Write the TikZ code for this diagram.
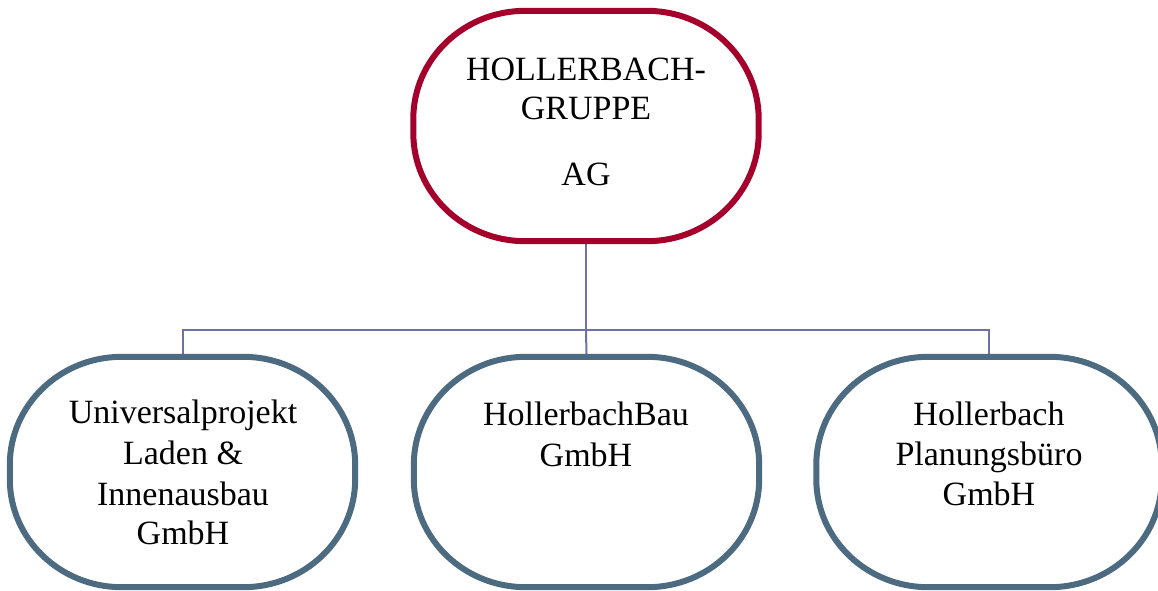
\documentclass[tikz,border=0pt]{standalone}
\usepackage{fontspec}
\setmainfont{Liberation Serif}
\usetikzlibrary{calc}
\definecolor{holdingred}{HTML}{A5002B}
\definecolor{firmblue}{HTML}{4C6A80}
\definecolor{linkviolet}{HTML}{6F6FAA}
\tikzset{
  orgbox/.style={minimum width=345pt, minimum height=230pt, inner sep=0pt},
  frame/.style={line width=6pt, fill=white},
  txt/.style={anchor=base, inner sep=0pt, font=\fontsize{34}{40}\selectfont},
  link/.style={draw=linkviolet, line width=2pt}
}
% rounded frame with elliptical corners around a named box
\newcommand\orgframe[2]{%
  \draw[frame, draw=#2]
    ($(#1.north west)+(112,0)$) -- ($(#1.north east)+(-112,0)$)
    arc[start angle=90, end angle=0, x radius=112pt, y radius=108pt]
    -- ($(#1.south east)+(0,-108)$)
    arc[start angle=0, end angle=-90, x radius=112pt, y radius=108pt]
    -- ($(#1.south west)+(112,0)$)
    arc[start angle=270, end angle=180, x radius=112pt, y radius=108pt]
    -- ($(#1.north west)+(0,108)$)
    arc[start angle=180, end angle=90, x radius=112pt, y radius=108pt]
    -- cycle;}
\begin{document}
\begin{tikzpicture}[x=1pt,y=-1pt]
  \useasboundingbox (0,0) rectangle (1158,590);
  % boxes
  \node[orgbox] (top) at (586,126) {};
  \node[orgbox] (left) at (182.5,472) {};
  \node[orgbox] (mid) at (586.5,472) {};
  \node[orgbox] (right) at (989,472) {};
  % connectors
  \coordinate (bus) at (586,330);
  \draw[link] (top.south) -- (bus);
  \draw[link] (bus) -- (mid.north);
  \draw[link] (bus) -| (left.north);
  \draw[link] (bus) -| (right.north);
  % frames
  \orgframe{top}{holdingred}
  \orgframe{left}{firmblue}
  \orgframe{mid}{firmblue}
  \orgframe{right}{firmblue}
  % holding text
  \node[txt] (t1) at (586,80) {HOLLERBACH-};
  \node[txt] (t2) at (586,119) {GRUPPE};
  \node[txt] (t3) at (586,185) {AG};
  % left firm
  \node[txt] (l1) at (183,423) {Universalprojekt};
  \node[txt] (l2) at (183,464) {Laden \&};
  \node[txt] (l3) at (183,505) {Innenausbau};
  \node[txt] (l4) at (183,544) {GmbH};
  % middle firm
  \node[txt] (m1) at (586,425) {HollerbachBau};
  \node[txt] (m2) at (586,466) {GmbH};
  % right firm
  \node[txt] (r1) at (989,425) {Hollerbach};
  \node[txt] (r2) at (989,465) {Planungsbüro};
  \node[txt] (r3) at (989,505) {GmbH};
\end{tikzpicture}
\end{document}
